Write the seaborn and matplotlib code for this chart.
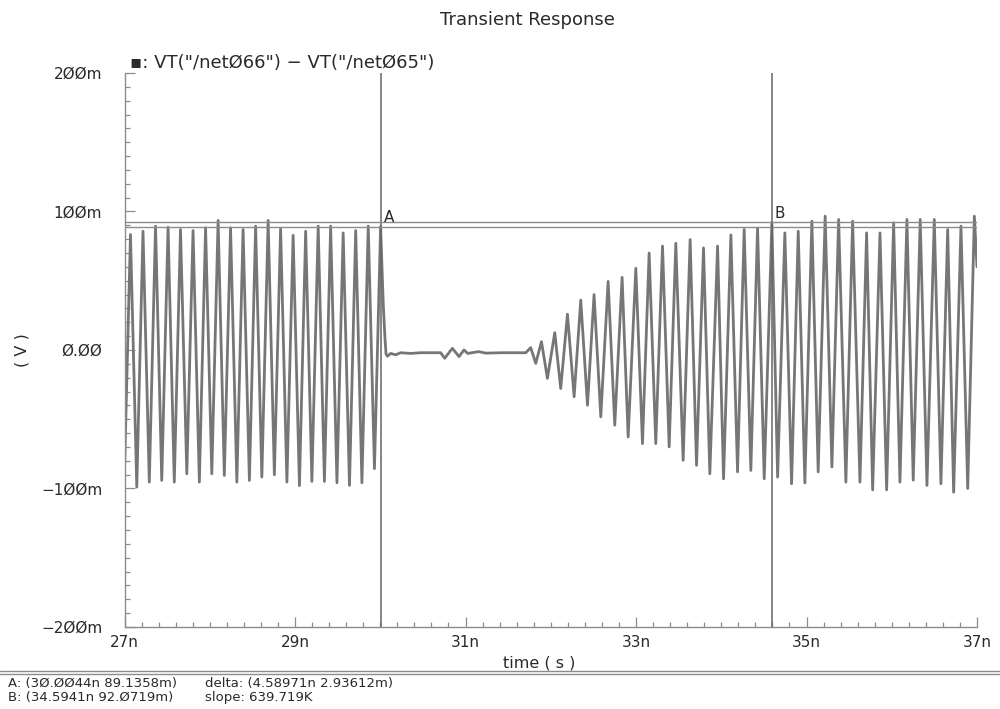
import numpy as np
import pandas as pd
import matplotlib
matplotlib.use("Agg")
import matplotlib.pyplot as plt
from matplotlib.ticker import AutoMinorLocator
from matplotlib.lines import Line2D
import seaborn as sns

# values: time in ns, VT difference in mV
# 27n .. cursor A : steady oscillation (trough, peak, trough, ...)
t_osc1 = [27.000, 27.070, 27.144, 27.217, 27.291, 27.364, 27.437, 27.511, 27.584, 27.657,
          27.731, 27.804, 27.878, 27.951, 28.024, 28.098, 28.171, 28.244, 28.318, 28.391,
          28.465, 28.538, 28.611, 28.685, 28.758, 28.831, 28.905, 28.978, 29.052, 29.125,
          29.198, 29.272, 29.345, 29.418, 29.492, 29.565, 29.639, 29.712, 29.785, 29.859,
          29.932, 30.004]
v_osc1 = [-88, 83.3, -99, 85.7, -95.4, 89.4, -94.2, 88.6, -95.4, 87,
          -89.4, 86.2, -95.4, 88.2, -89.4, 93.5, -90.6, 88.2, -95.4, 87,
          -94.2, 89.4, -91.8, 93.5, -90.1, 87.7, -95.4, 82.8, -98, 85.7,
          -94.9, 89.4, -94.9, 89.4, -95.9, 84.5, -97.8, 86.2, -95.9, 89.4,
          -85.7, 89.1]

# after A : collapse to ~0 with a little ringing
t_flat = [30.020, 30.036, 30.055, 30.068, 30.085, 30.122, 30.180, 30.240, 30.357, 30.474,
          30.590, 30.709, 30.756, 30.846, 30.924, 30.982, 31.026, 31.155, 31.237, 31.413,
          31.648, 31.707]
v_flat = [60, 32, 9, -3, -4.5, -2.5, -3.5, -2, -2.5, -2,
          -2, -2, -6, 1.2, -4.8, 0, -2.5, -1.2, -2.3, -2,
          -2, -2]

# restart : growing oscillation up to 37n
t_osc2 = [31.765, 31.824, 31.891, 31.961, 32.047, 32.117, 32.196, 32.274, 32.352, 32.431,
          32.508, 32.587, 32.673, 32.751, 32.837, 32.908, 32.998, 33.076, 33.154, 33.232,
          33.311, 33.389, 33.467, 33.553, 33.635, 33.710, 33.792, 33.866, 33.957, 34.027,
          34.113, 34.191, 34.269, 34.347, 34.426, 34.504, 34.594, 34.661, 34.746, 34.825,
          34.903, 34.981, 35.063, 35.137, 35.219, 35.298, 35.377, 35.462, 35.541, 35.627,
          35.705, 35.776, 35.862, 35.940, 36.022, 36.096, 36.178, 36.252, 36.334, 36.413,
          36.499, 36.577, 36.656, 36.726, 36.812, 36.891, 36.969, 37.000]
v_osc2 = [1.7, -9.7, 6, -20.5, 12.5, -27.8, 25.8, -33.8, 36, -39.9,
          40, -48.3, 49.5, -54.3, 52.4, -62.8, 59, -67.6, 70, -67.6,
          75, -70, 77, -79.7, 79.7, -83.3, 73.7, -89.4, 75, -93,
          83, -88, 87, -87, 88, -93, 92.1, -91.8, 84.5, -96.6,
          85.7, -96, 93, -88, 96.6, -84.5, 94.2, -95.4, 93, -95.4,
          84.5, -101, 84.5, -101, 91.8, -95.4, 94.2, -94, 94.2, -97.8,
          94.2, -96.6, 87, -102.7, 89.4, -100, 96.6, 60]

cursor_names = ["A", "B"]
cursor_t = [30.0044, 34.5941]
cursor_v = [89.1358, 92.0719]

x_ticks = [27, 29, 31, 33, 35, 37]
x_tick_labels = ["27n", "29n", "31n", "33n", "35n", "37n"]
y_ticks = [-200, -100, 0, 100, 200]
y_tick_labels = ["\u22122ØØm", "\u22121ØØm", "Ø.ØØ", "1ØØm", "2ØØm"]

df = pd.DataFrame({"time": t_osc1 + t_flat + t_osc2,
                   "vt": v_osc1 + v_flat + v_osc2})

sns.set_style("white")
plt.rcParams["font.family"] = ["DejaVu Sans"]

txt = "#2a2a2a"
axis_grey = "#8c8c8c"

fig = plt.figure(figsize=(10, 7.09), dpi=100)
ax = fig.add_axes([0.1245, 0.1157, 0.8525, 0.7814])

sns.lineplot(data=df, x="time", y="vt", sort=False, estimator=None,
             color="#767676", lw=2.0, ax=ax)

# cursors
for name, ct, cv in zip(cursor_names, cursor_t, cursor_v):
    ax.axvline(ct, color="#666666", lw=1.1)
    ax.axhline(cv, color=axis_grey, lw=1.0)
    ax.annotate(name, (ct, cv), xytext=(2, 1), textcoords="offset points",
                ha="left", va="bottom", fontsize=11, color=txt)

ax.set_xlim(27, 37)
ax.set_ylim(-200, 200)
ax.set_xticks(x_ticks)
ax.set_xticklabels(x_tick_labels)
ax.set_yticks(y_ticks)
ax.set_yticklabels(y_tick_labels)
ax.xaxis.set_minor_locator(AutoMinorLocator(10))
ax.yaxis.set_minor_locator(AutoMinorLocator(10))
ax.tick_params(which="both", direction="in", bottom=True, left=True,
               color=axis_grey, width=0.9)
ax.tick_params(which="major", length=7, labelsize=11, labelcolor=txt)
ax.tick_params(which="minor", length=3.5)
ax.tick_params(axis="x", pad=6)
ax.tick_params(axis="y", pad=16)

sns.despine(ax=ax)
for side in ["left", "bottom"]:
    ax.spines[side].set_color(axis_grey)
    ax.spines[side].set_linewidth(1.0)

ax.set_xlabel("time ( s )", fontsize=11.5, color=txt)
ax.set_ylabel("( V )", fontsize=11.5, color=txt)
ax.xaxis.set_label_coords(0.487, -0.052)
ax.yaxis.set_label_coords(-0.112, 0.5)

fig.text(0.527, 1 - 20 / 709, "Transient Response", ha="center", va="center",
         fontsize=13, color=txt)
fig.text(0.13, 1 - 63 / 709, '\u25aa: VT("/netØ66") \u2212 VT("/netØ65")',
         ha="left", va="center", fontsize=13, color=txt)

# marker readout strip at the bottom
for yy in [1 - 671 / 709, 1 - 674 / 709]:
    fig.add_artist(Line2D([0, 1], [yy, yy], color=axis_grey, lw=1.0))
fig.text(0.008, 1 - 684 / 709, "A: (3Ø.ØØ44n 89.1358m)", ha="left", va="center",
         fontsize=9.5, color=txt)
fig.text(0.008, 1 - 698 / 709, "B: (34.5941n 92.Ø719m)", ha="left", va="center",
         fontsize=9.5, color=txt)
fig.text(0.205, 1 - 684 / 709, "delta: (4.58971n 2.93612m)", ha="left", va="center",
         fontsize=9.5, color=txt)
fig.text(0.205, 1 - 698 / 709, "slope: 639.719K", ha="left", va="center",
         fontsize=9.5, color=txt)

fig.savefig("out.png", dpi=100)
